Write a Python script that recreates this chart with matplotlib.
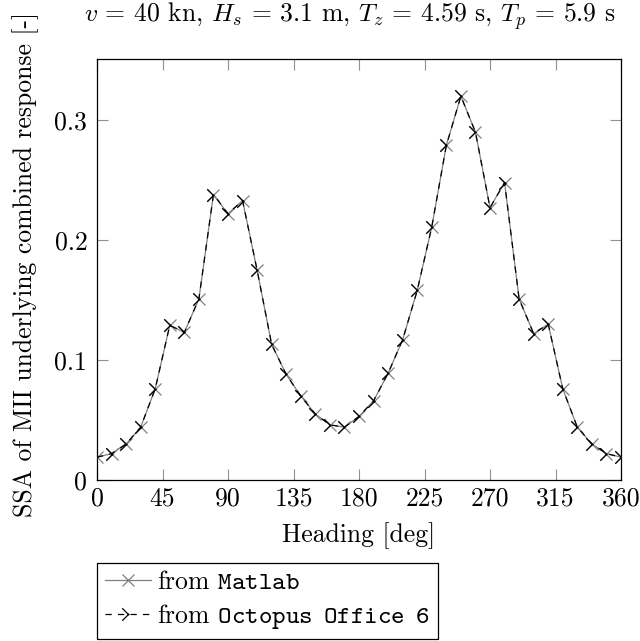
import matplotlib
matplotlib.use("Agg")
import matplotlib.pyplot as plt
from matplotlib.path import Path

plt.rcParams['font.family'] = ['cmr10', 'DejaVu Serif']
plt.rcParams['mathtext.fontset'] = 'custom'
plt.rcParams['mathtext.rm'] = 'cmr10'
plt.rcParams['mathtext.it'] = 'cmmi10'
plt.rcParams['mathtext.tt'] = 'cmtt10'
plt.rcParams['mathtext.bf'] = 'cmb10'
plt.rcParams['axes.formatter.use_mathtext'] = False

heading = [0, 10, 20, 30, 40, 50, 60, 70, 80, 90, 100, 110, 120, 130, 140, 150, 160, 170, 180,
           190, 200, 210, 220, 230, 240, 250, 260, 270, 280, 290, 300, 310, 320, 330, 340, 350, 360]
matlab = [0.019, 0.022, 0.030, 0.044, 0.076, 0.129, 0.123, 0.151, 0.238, 0.222, 0.233, 0.175,
          0.113, 0.088, 0.070, 0.055, 0.046, 0.044, 0.053, 0.066, 0.089, 0.117, 0.158, 0.211,
          0.279, 0.320, 0.290, 0.227, 0.248, 0.151, 0.122, 0.130, 0.076, 0.044, 0.030, 0.022, 0.019]
octopus = [0.019, 0.022, 0.030, 0.044, 0.076, 0.129, 0.123, 0.151, 0.238, 0.222, 0.233, 0.175,
           0.113, 0.088, 0.070, 0.055, 0.046, 0.044, 0.053, 0.066, 0.089, 0.117, 0.158, 0.211,
           0.279, 0.320, 0.290, 0.227, 0.248, 0.151, 0.122, 0.130, 0.076, 0.044, 0.030, 0.022, 0.019]
xticks = [0, 45, 90, 135, 180, 225, 270, 315, 360]
yticks = [0, 0.1, 0.2, 0.3]
ytick_labels = ['0', '0.1', '0.2', '0.3']

FS = 18.5
W, H = 640, 641

# dashed 'x' mark as drawn by pgf (first half of each diagonal visible)
half_x = Path([(-1, -1), (0.1, 0.1), (-1, 1), (0.1, -0.1)],
              [Path.MOVETO, Path.LINETO, Path.MOVETO, Path.LINETO])

fig = plt.figure(figsize=(6.4, 6.41), dpi=100)
ax = fig.add_axes([97/W, 1-480/H, 524/W, 421/H])

ax.plot(heading, matlab, color='#808080', lw=0.9, marker='x', markersize=9,
        markeredgewidth=0.9, label=r'from $\mathtt{Matlab}$', zorder=3)
ax.plot(heading, octopus, color='black', lw=0.9, dashes=(5, 5), marker=half_x,
        markersize=9, markeredgewidth=0.9, markerfacecolor='none',
        label=r'from $\mathtt{Octopus\ \,Office\ \,6}$', zorder=4)

ax.set_xlim(0, 360)
ax.set_ylim(0, 0.351)
ax.set_xticks(xticks)
ax.set_xticklabels([str(t) for t in xticks])
ax.set_yticks(yticks)
ax.set_yticklabels(ytick_labels)
ax.tick_params(direction='in', top=True, right=True, length=8, width=0.8,
               color='#909090', labelsize=FS)
ax.tick_params(axis='x', pad=5)
ax.tick_params(axis='y', pad=7)
for s in ax.spines.values():
    s.set_linewidth(0.9)
    s.set_color('black')

fig.text(359/W, 1-542/H, 'Heading [deg]', fontsize=FS, ha='center', va='baseline')
fig.text(26/W, 1-12/H, 'SSA of MII underlying combined response [-]', fontsize=FS,
         rotation=90, ha='center', va='top')
fig.text(350/W, 1-22/H, r'$v$ = 40 kn, $H_s$ = 3.1 m, $T_z$ = 4.59 s, $T_p$ = 5.9 s',
         fontsize=FS, ha='center', va='baseline')

handles, labels = ax.get_legend_handles_labels()
leg = fig.legend(handles, labels, loc='upper left', bbox_to_anchor=(97/W, 1-563/H),
                 fontsize=FS, frameon=True, fancybox=False, edgecolor='black',
                 framealpha=1, handlelength=1.8, handletextpad=0.25, borderpad=0.3,
                 labelspacing=0.3, borderaxespad=0)
leg.get_frame().set_linewidth(0.9)

fig.savefig('out.png', dpi=100)
